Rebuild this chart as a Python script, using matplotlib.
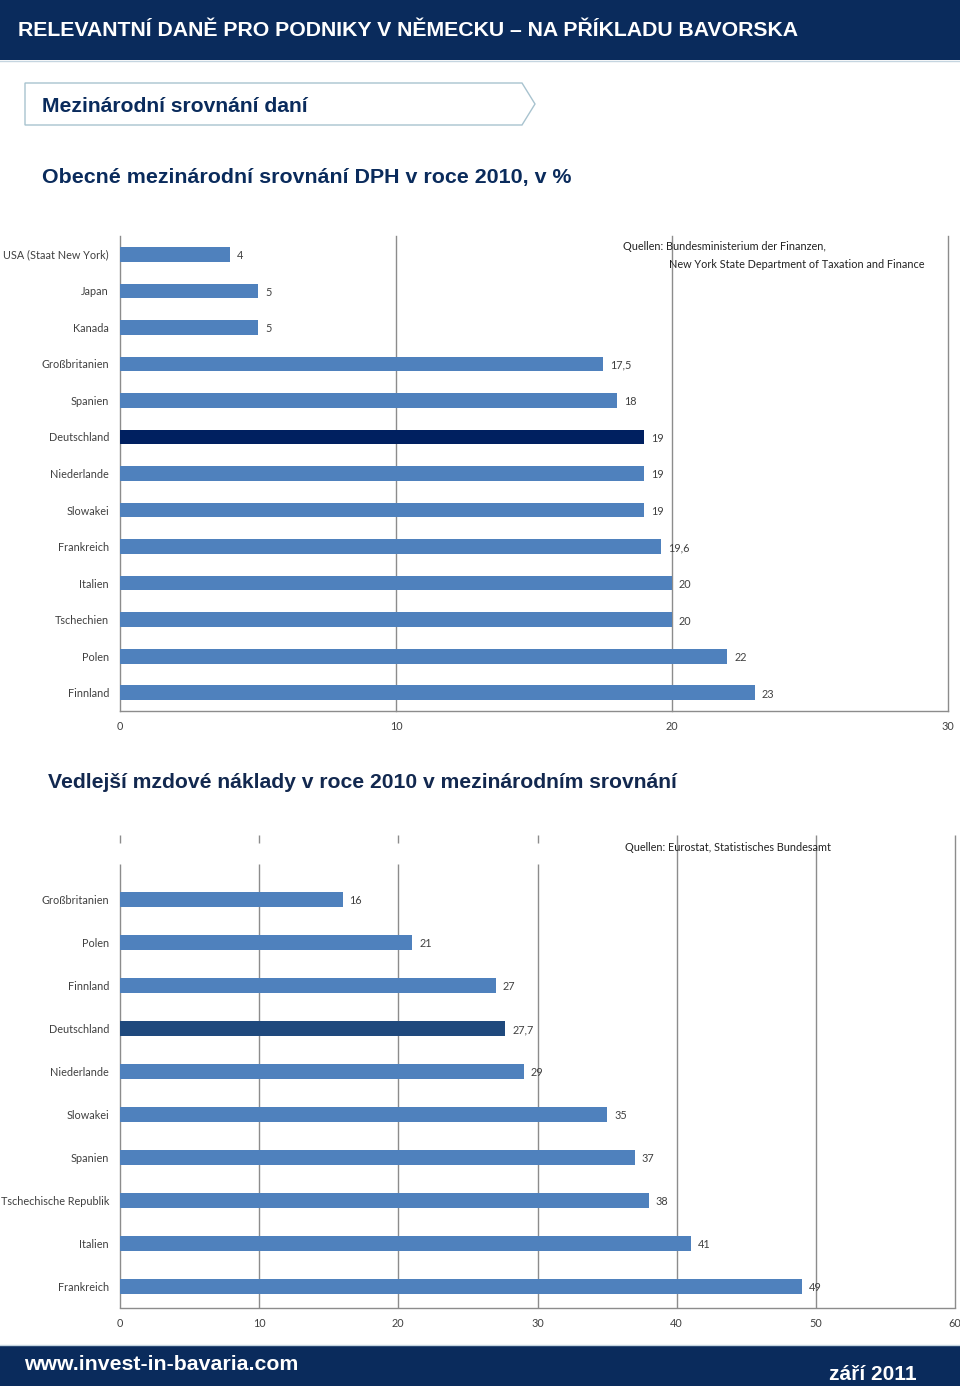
import matplotlib
matplotlib.use("Agg")
import matplotlib.pyplot as plt
from matplotlib.patches import Rectangle, Polygon
from matplotlib.lines import Line2D

# ---------------- data ----------------
vat_countries = ["USA (Staat New York)", "Japan", "Kanada", "Großbritanien", "Spanien",
                 "Deutschland", "Niederlande", "Slowakei", "Frankreich", "Italien",
                 "Tschechien", "Polen", "Finnland"]
vat_values = [4, 5, 5, 17.5, 18, 19, 19, 19, 19.6, 20, 20, 22, 23]

lab_countries = ["Großbritanien", "Polen", "Finnland", "Deutschland", "Niederlande",
                 "Slowakei", "Spanien", "Tschechische Republik", "Italien", "Frankreich"]
lab_values = [16, 21, 27, 27.7, 29, 35, 37, 38, 41, 49]

vat_ticks = [0, 10, 20, 30]
lab_ticks = [0, 10, 20, 30, 40, 50, 60]

title = "RELEVANTNÍ DANĚ PRO PODNIKY V NĚMECKU – NA PŘÍKLADU BAVORSKA"
box_title = "Mezinárodní srovnání daní"
sub1 = "Obecné mezinárodní srovnání DPH v roce 2010, v %"
sub2 = "Vedlejší mzdové náklady v roce 2010 v mezinárodním srovnání"
src1 = ["Quellen: Bundesministerium der Finanzen,",
        "New York State Department of Taxation and Finance"]
src2 = "Quellen: Eurostat, Statistisches Bundesamt"
footer_l = "www.invest-in-bavaria.com"
footer_r = "září 2011"

# ---------------- style ----------------
W, H = 960, 1386
NAVY = "#0a2b5c"
BLUE = "#4f81bd"
DE1 = "#002060"
DE2 = "#1f497d"
GRID = "#8c8c8c"
TXT = "#404040"
SMALL = ["Lato", "DejaVu Sans"]
SFS = 7.8
HEAD = ["Liberation Sans", "DejaVu Sans"]

fig = plt.figure(figsize=(W / 100, H / 100), dpi=100)
fig.patch.set_facecolor("white")

def fx(px):
    return px / W

def fy(py):
    return 1 - py / H

# header band
fig.patches.append(Rectangle((0, fy(60)), 1, 60 / H, transform=fig.transFigure,
                             facecolor=NAVY, edgecolor="none", zorder=0))
fig.lines.append(Line2D([0, 1], [fy(61), fy(61)], transform=fig.transFigure,
                        color="#c5d5e0", lw=1))
fig.text(fx(18), fy(31), title, color="white", fontsize=15.3, fontweight="bold",
         family=HEAD, va="center", ha="left")

# box with arrow
bx = [(fx(25), fy(83)), (fx(522), fy(83)), (fx(535), fy(104)), (fx(522), fy(125)), (fx(25), fy(125))]
fig.patches.append(Polygon(bx, closed=True, transform=fig.transFigure,
                           facecolor="white", edgecolor="#a8c3cf", lw=1))
fig.text(fx(42), fy(106), box_title, color=NAVY, fontsize=15.2, fontweight="bold",
         family=HEAD, va="center", ha="left")

fig.text(fx(42), fy(177), sub1, color=NAVY, fontsize=15.4, fontweight="bold",
         family=HEAD, va="center", ha="left")
fig.text(fx(48), fy(783), sub2, color="#12284f", fontsize=15.25, fontweight="bold",
         family=HEAD, va="center", ha="left")

# footer band
fig.patches.append(Rectangle((0, 0), 1, (H - 1346) / H, transform=fig.transFigure,
                             facecolor=NAVY, edgecolor="none", zorder=0))
fig.lines.append(Line2D([0, 1], [fy(1345), fy(1345)], transform=fig.transFigure,
                        color="#c5d5e0", lw=1))
fig.text(fx(24), fy(1365), footer_l, color="white", fontsize=15.3, fontweight="bold",
         family=HEAD, va="center", ha="left")
fig.text(fx(917), fy(1375), footer_r, color="white", fontsize=15, fontweight="bold",
         family=HEAD, va="center", ha="right")


def fmt(v):
    s = ("%g" % v)
    return s.replace(".", ",")


def bar_chart(left, right, top, bottom, cats, vals, ticks, de_color, bar_h, extra_top):
    ax = fig.add_axes([fx(left), fy(bottom), fx(right) - fx(left), (bottom - top) / H])
    n = len(cats)
    ypos = list(range(n))
    colors = [de_color if c == "Deutschland" else BLUE for c in cats]
    ax.barh(ypos, vals, height=bar_h, color=colors, zorder=3)
    ax.set_xlim(ticks[0], ticks[-1])
    ax.set_ylim(n - 0.5, -0.5 - extra_top)
    for s in ["top", "right", "left"]:
        ax.spines[s].set_visible(False)
    ax.spines["bottom"].set_color(GRID)
    ax.spines["bottom"].set_linewidth(1)
    ax.set_yticks(ypos)
    ax.set_yticklabels(cats, family=SMALL, fontsize=SFS, color=TXT)
    ax.set_xticks(ticks)
    ax.set_xticklabels([str(t) for t in ticks], family=SMALL, fontsize=SFS, color=TXT)
    ax.tick_params(axis="both", length=0)
    ax.tick_params(axis="y", pad=8)
    ax.tick_params(axis="x", pad=7)
    for y, v in zip(ypos, vals):
        ax.annotate(fmt(v), (v, y), xytext=(5, -1), textcoords="offset points",
                    va="center", ha="left", family=SMALL, fontsize=SFS, color=TXT, zorder=4)
    return ax


ax1 = bar_chart(120, 948, 236, 711, vat_countries, vat_values, vat_ticks, DE1, 0.4, 0)
for t in vat_ticks:
    ax1.axvline(t, color=GRID, lw=1, zorder=1, clip_on=False)
ax1.text(fx(623), fy(247), src1[0], transform=fig.transFigure, family=SMALL,
         fontsize=SFS, color="#222222", va="center", ha="left", zorder=5)
ax1.text(fx(669), fy(264), src1[1], transform=fig.transFigure, family=SMALL,
         fontsize=SFS, color="#222222", va="center", ha="left", zorder=5)

ax2 = bar_chart(120, 955, 835, 1308, lab_countries, lab_values, lab_ticks, DE2, 0.37, 1)
# gridlines: lower part with a gap near the top for the left four lines
y_gap_end = -1.5 + (864 - 835) / 43.0
y_tick_end = -1.5 + (843 - 835) / 43.0
n2 = len(lab_countries)
for t in lab_ticks:
    if t <= 30:
        ax2.vlines(t, y_gap_end, n2 - 0.5, color=GRID, lw=1, zorder=1, clip_on=False)
        ax2.vlines(t, -1.5, y_tick_end, color=GRID, lw=1, zorder=1, clip_on=False)
    else:
        ax2.vlines(t, -1.5, n2 - 0.5, color=GRID, lw=1, zorder=1, clip_on=False)
ax2.text(fx(625), fy(847), src2, transform=fig.transFigure, family=SMALL,
         fontsize=SFS, color="#222222", va="center", ha="left", zorder=5)

fig.savefig("out.png", dpi=100)
